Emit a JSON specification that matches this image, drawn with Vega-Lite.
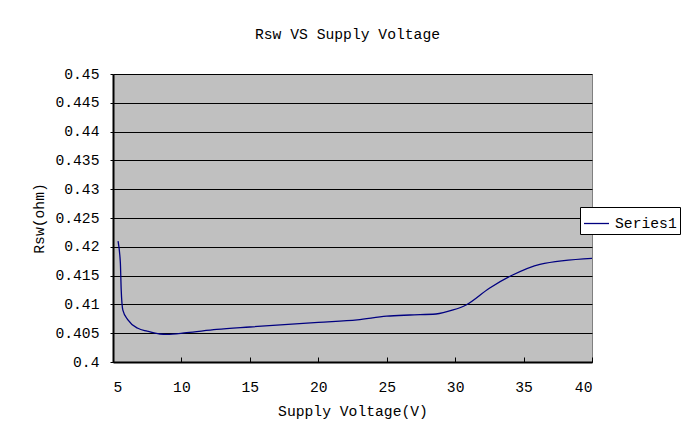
{
  "$schema": "https://vega.github.io/schema/vega-lite/v6.json",
  "autosize": {"type": "none"},
  "width": 479,
  "height": 288,
  "padding": {"left": 113, "top": 74, "right": 89, "bottom": 70},
  "background": "white",
  "title": {
    "text": "Rsw VS Supply Voltage",
    "font": "Liberation Mono",
    "fontSize": 14.7,
    "fontWeight": "normal",
    "color": "black",
    "anchor": "middle",
    "offset": 24,
    "dx": -5
  },
  "data": {
    "values": [
      {"v": 5.37, "r": 0.4210},
      {"v": 5.5, "r": 0.4185},
      {"v": 5.54, "r": 0.4171},
      {"v": 5.6, "r": 0.4125},
      {"v": 5.72, "r": 0.4090},
      {"v": 6.09, "r": 0.4073},
      {"v": 6.82, "r": 0.40585},
      {"v": 7.5, "r": 0.40535},
      {"v": 8.43, "r": 0.40486},
      {"v": 8.92, "r": 0.4048},
      {"v": 10.38, "r": 0.40509},
      {"v": 12.57, "r": 0.40565},
      {"v": 15, "r": 0.40608},
      {"v": 20, "r": 0.40688},
      {"v": 22.85, "r": 0.4073},
      {"v": 24.99, "r": 0.40795},
      {"v": 26.69, "r": 0.40816},
      {"v": 28.6, "r": 0.40833},
      {"v": 29.85, "r": 0.40903},
      {"v": 30.8, "r": 0.4099},
      {"v": 32.5, "r": 0.4128},
      {"v": 34.2, "r": 0.4151},
      {"v": 36.19, "r": 0.41696},
      {"v": 40, "r": 0.418}
    ]
  },
  "mark": {"type": "line", "interpolate": "monotone", "strokeWidth": 1.3, "clip": true},
  "encoding": {
    "x": {
      "field": "v",
      "type": "quantitative",
      "scale": {"domain": [5, 40], "nice": false, "zero": false},
      "axis": {
        "title": "Supply Voltage(V)",
        "values": [5, 10, 15, 20, 25, 30, 35, 40],
        "grid": false,
        "tickSize": -5,
        "labelPadding": 22,
        "titlePadding": 10
      }
    },
    "y": {
      "field": "r",
      "type": "quantitative",
      "scale": {"domain": [0.4, 0.45], "nice": false, "zero": false},
      "axis": {
        "title": "Rsw(ohm)",
        "values": [0.4, 0.405, 0.41, 0.415, 0.42, 0.425, 0.43, 0.435, 0.44, 0.445, 0.45],
        "format": ".3~f",
        "grid": true,
        "gridColor": "black",
        "gridWidth": 1,
        "tickSize": 3,
        "labelPadding": 11,
        "titlePadding": 8
      }
    },
    "color": {
      "datum": "Series1",
      "scale": {"range": ["#000080"]},
      "legend": {
        "title": null,
        "orient": "none",
        "legendX": 467,
        "legendY": 133,
        "fillColor": "white",
        "strokeColor": "black",
        "padding": 3,
        "symbolType": "stroke",
        "symbolSize": 625,
        "symbolStrokeWidth": 1.3,
        "labelFont": "Liberation Mono",
        "labelFontSize": 14.7,
        "labelColor": "black",
        "labelOffset": 5
      }
    }
  },
  "config": {
    "view": {"fill": "#C0C0C0", "stroke": "#808080", "strokeWidth": 1},
    "axis": {
      "domainColor": "black",
      "domainWidth": 2,
      "tickColor": "black",
      "labelFont": "Liberation Mono",
      "labelFontSize": 14.7,
      "labelColor": "black",
      "titleFont": "Liberation Mono",
      "titleFontSize": 14.7,
      "titleFontWeight": "normal",
      "titleColor": "black"
    }
  }
}
